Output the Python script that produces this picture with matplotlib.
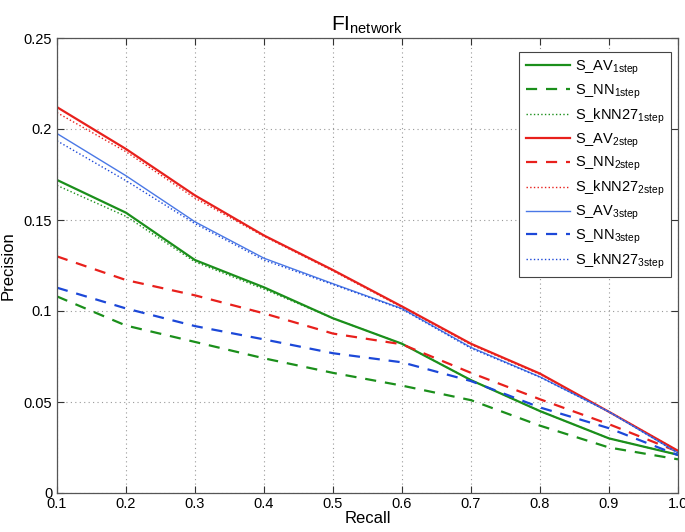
import matplotlib
matplotlib.use("Agg")
import matplotlib.pyplot as plt
import numpy as np

plt.rcParams['font.family'] = ['Liberation Sans', 'DejaVu Sans']
plt.rcParams['mathtext.fontset'] = 'custom'
plt.rcParams['mathtext.rm'] = 'Liberation Sans'
plt.rcParams['mathtext.it'] = 'Liberation Sans'

recall = [0.1, 0.2, 0.3, 0.4, 0.5, 0.6, 0.7, 0.8, 0.9, 1.0]

s_av_1 = [0.172, 0.154, 0.128, 0.113, 0.096, 0.082, 0.062, 0.045, 0.030, 0.021]
s_nn_1 = [0.108, 0.092, 0.083, 0.074, 0.066, 0.059, 0.051, 0.037, 0.025, 0.0185]
s_knn_1 = [0.169, 0.152, 0.127, 0.112, 0.096, 0.082, 0.062, 0.045, 0.030, 0.021]
s_av_2 = [0.212, 0.189, 0.1635, 0.1415, 0.1225, 0.1025, 0.082, 0.0656, 0.0446, 0.0232]
s_nn_2 = [0.130, 0.117, 0.1086, 0.0987, 0.0876, 0.0817, 0.066, 0.0515, 0.0378, 0.0227]
s_knn_2 = [0.209, 0.1875, 0.162, 0.141, 0.122, 0.102, 0.0815, 0.0652, 0.0446, 0.0232]
s_av_3 = [0.1975, 0.1743, 0.149, 0.129, 0.115, 0.1013, 0.080, 0.0638, 0.0446, 0.022]
s_nn_3 = [0.1128, 0.1014, 0.0917, 0.0844, 0.0768, 0.0718, 0.0615, 0.047, 0.0356, 0.0208]
s_knn_3 = [0.1935, 0.1716, 0.148, 0.128, 0.1145, 0.101, 0.0795, 0.0636, 0.0446, 0.022]

green = '#1b8f1b'
red = '#e8201c'
blue_light = '#4a78e6'
blue = '#1c48d8'

fig = plt.figure(figsize=(6.85, 5.32), dpi=100)
ax = fig.add_axes([57/685, 39/532, (678-57)/685, (493-38)/532])

ax.plot(recall, s_av_1, '-', color=green, lw=1.6, label=r'S_AV$_{\mathrm{1step}}$')
ax.plot(recall, s_nn_1, '--', color=green, lw=1.6, dashes=(5, 4), label=r'S_NN$_{\mathrm{1step}}$')
ax.plot(recall, s_knn_1, ':', color=green, lw=1.0, label=r'S_kNN27$_{\mathrm{1step}}$')
ax.plot(recall, s_av_2, '-', color=red, lw=1.6, label=r'S_AV$_{\mathrm{2step}}$')
ax.plot(recall, s_nn_2, '--', color=red, lw=1.6, dashes=(5, 4), label=r'S_NN$_{\mathrm{2step}}$')
ax.plot(recall, s_knn_2, ':', color=red, lw=1.0, label=r'S_kNN27$_{\mathrm{2step}}$')
ax.plot(recall, s_av_3, '-', color=blue_light, lw=1.0, label=r'S_AV$_{\mathrm{3step}}$')
ax.plot(recall, s_nn_3, '--', color=blue, lw=1.6, dashes=(5, 4), label=r'S_NN$_{\mathrm{3step}}$')
ax.plot(recall, s_knn_3, ':', color=blue, lw=1.0, label=r'S_kNN27$_{\mathrm{3step}}$')

ax.set_xlim(0.1, 1.0)
ax.set_ylim(0, 0.25)
xt = [0.1, 0.2, 0.3, 0.4, 0.5, 0.6, 0.7, 0.8, 0.9, 1.0]
ax.set_xticks(xt)
ax.set_xticklabels(['0.1', '0.2', '0.3', '0.4', '0.5', '0.6', '0.7', '0.8', '0.9', '1.0'])
ax.set_yticks([0, 0.05, 0.1, 0.15, 0.2, 0.25])
ax.set_yticklabels(['0', '0.05', '0.1', '0.15', '0.2', '0.25'])
ax.tick_params(direction='in', length=5, width=0.8, labelsize=10.5, top=True, right=True, color='#333333')
ax.tick_params(axis='x', pad=3)
ax.grid(True, linestyle=(0, (1, 3)), color='#999999', lw=0.8)
for s in ax.spines.values():
    s.set_color('#555555')
    s.set_linewidth(0.9)

ax.set_xlabel('Recall', fontsize=12, labelpad=0)
ax.set_ylabel('Precision', fontsize=12, labelpad=6)
ax.set_title(r'$\mathrm{FI}_{\mathrm{network}}$', fontsize=15, pad=5)

leg = ax.legend(loc='upper right', fontsize=10.5, fancybox=False, framealpha=1,
                edgecolor='#444444', handlelength=3.0, handletextpad=0.35,
                labelspacing=0.38, borderpad=0.45, bbox_to_anchor=(1.0, 0.985))
leg.get_frame().set_linewidth(0.8)

fig.savefig('out.png', dpi=100)
